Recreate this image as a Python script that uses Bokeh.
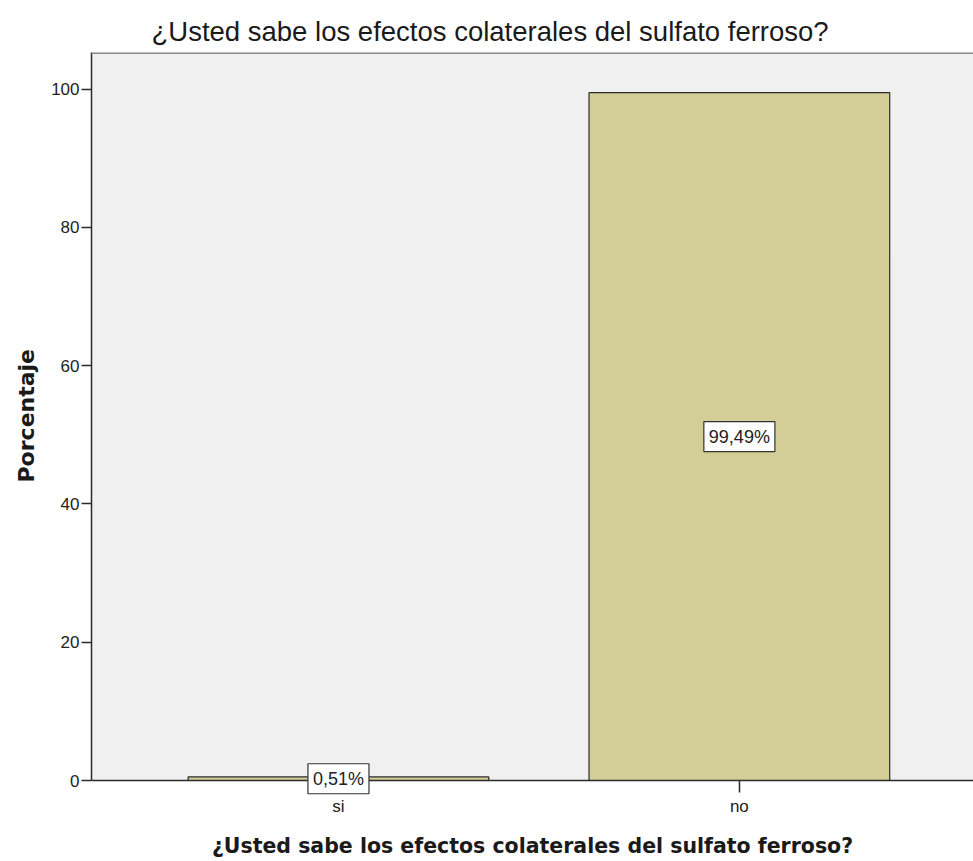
from bokeh.plotting import figure
from bokeh.models import (ColumnDataSource, Range1d, FixedTicker, Span, Title,
                          Label, BoxAnnotation)
from bokeh.embed import file_html
from bokeh.resources import INLINE

categories = ["si", "no"]
percent = [0.51, 99.49]
labels = ["0,51%", "99,49%"]
y_ticks = [0, 20, 40, 60, 80, 100]
title_text = "¿Usted sabe los efectos colaterales del sulfato ferroso?"
y_label = "Porcentaje"

Y_TOP = 105.3
Y_BOTTOM = -11.716

xs = list(range(len(categories)))
src = ColumnDataSource(dict(x=xs, top=percent))

p = figure(width=973, height=861, output_backend="svg", toolbar_location=None,
           x_range=Range1d(-0.616, 1.584), y_range=Range1d(Y_BOTTOM, Y_TOP),
           min_border_left=91, min_border_right=0, min_border_top=52,
           min_border_bottom=0)
p.background_fill_color = "white"
p.border_fill_color = "white"
p.outline_line_color = None
p.xgrid.visible = False
p.ygrid.visible = False

p.add_layout(BoxAnnotation(bottom=0, fill_color="#f0f0f0", fill_alpha=1,
                           line_color=None, level="underlay"))

p.vbar(x="x", top="top", bottom=0, width=0.75, source=src,
       fill_color="#d3ce98", line_color="#2b2b2b", line_width=1.2)

p.add_layout(Span(location=Y_TOP, dimension="width", line_color="#8a8a8a",
                  line_width=3))

for xi, v, lab in zip(xs, percent, labels):
    p.add_layout(Label(x=xi, y=v / 2, text=lab,
                       text_align="center", text_baseline="middle",
                       text_font="Liberation Sans", text_font_size="18px",
                       text_color="#222222", background_fill_color="white",
                       border_line_color="#333333", border_line_width=1.2,
                       padding=5, level="overlay"))

t = Title(text=title_text, align="left", offset=60,
          text_font="Liberation Sans", text_font_size="27.5px",
          text_font_style="normal", text_color="#1a1a1a", standoff=12)
p.add_layout(t, "above")

ylab = Title(text=y_label, align="left", offset=379,
             text_font="DejaVu Sans", text_font_size="22px",
             text_font_style="bold", text_color="#1a1a1a", standoff=19)
p.add_layout(ylab, "left")

p.xaxis.fixed_location = 0
p.xaxis.ticker = FixedTicker(ticks=xs)
p.xaxis.major_label_overrides = {i: c for i, c in zip(xs, categories)}
p.xaxis.axis_label = title_text
p.xaxis.axis_label_text_font = "DejaVu Sans"
p.xaxis.axis_label_text_font_style = "bold"
p.xaxis.axis_label_text_font_size = "20.5px"
p.xaxis.axis_label_text_color = "#1a1a1a"
p.xaxis.axis_label_standoff = 15
p.xaxis.major_tick_out = 12
p.xaxis.major_tick_in = 0
p.xaxis.minor_tick_out = 0
p.xaxis.major_label_standoff = 4

p.yaxis.bounds = (0, Y_TOP)
p.yaxis.ticker = FixedTicker(ticks=y_ticks)
p.yaxis.major_tick_out = 10
p.yaxis.major_tick_in = 0
p.yaxis.minor_tick_out = 0
p.yaxis.minor_tick_in = 0
p.yaxis.major_label_standoff = 2

for ax in (p.xaxis, p.yaxis):
    ax.axis_line_color = "#2b2b2b"
    ax.axis_line_width = 1.5
    ax.major_tick_line_color = "#2b2b2b"
    ax.major_tick_line_width = 1.5
    ax.major_label_text_font = "Liberation Sans"
    ax.major_label_text_font_size = "17px"
    ax.major_label_text_color = "#222222"

open("out.html", "w").write(file_html(p, INLINE))
